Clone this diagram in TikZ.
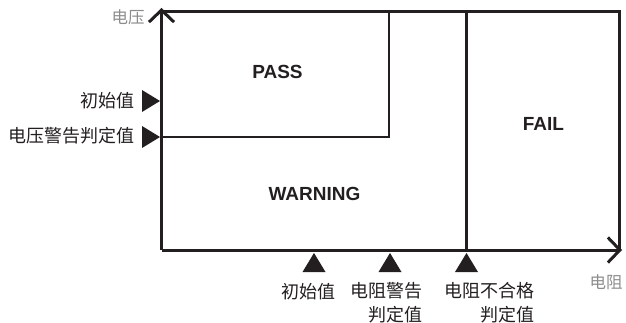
\documentclass[tikz,border=0pt]{standalone}
\usepackage{fontspec}
\setmainfont{Liberation Sans}
\newfontfamily\cjk{Noto Sans CJK SC}
\usetikzlibrary{arrows.meta,positioning}
\definecolor{ink}{HTML}{231F20}
\definecolor{muted}{HTML}{8C8C8C}

\begin{document}
\begin{tikzpicture}[
  x=1pt,y=-1pt,
  every node/.style={inner sep=0pt},
  axis/.style={line width=3pt,color=ink},
  bound/.style={line width=2.4pt,color=ink},
  barb/.style={-{Straight Barb[length=12pt,width=25pt]}},
  zone/.style={font=\fontsize{19}{19}\selectfont\bfseries,text=ink},
  tag/.style={font=\cjk\fontsize{18}{24}\selectfont,text=ink,align=right},
  axlabel/.style={font=\cjk\fontsize{16.5}{16.5}\selectfont,text=muted}
]
\useasboundingbox (0,0) rectangle (626,323);
% axes and frame
\coordinate (O) at (161.5,250);
\coordinate (Vtip) at (161.5,8);
\coordinate (Rtip) at (622,250);
\coordinate (TL) at (161.5,12);
\coordinate (TR) at (619,12);
\coordinate (BR) at (619,250);
\draw[axis,barb] (O) -- (Vtip);
\draw[axis,barb] (O) -- (Rtip);
\draw[axis] (TL) -- (TR) -- (BR);
% zones
\coordinate (pL) at (161.5,137);
\coordinate (pC) at (389,137);
\coordinate (pT) at (389,12);
\coordinate (fT) at (466.5,12);
\coordinate (fB) at (466.5,250);
\draw[bound] (pL) -- (pC) -- (pT);
\draw[bound] (fT) -- (fB);
\node[zone] (pass) at (277.5,72) {PASS};
\node[zone] (warn) at (314.5,194) {WARNING};
\node[zone] (fail) at (543.5,124) {FAIL};
% markers on voltage axis
\coordinate (vInit) at (160,101);
\coordinate (vWarn) at (160,137);
\fill[ink] (vInit) -- ++(-18,-11) -- ++(0,22) -- cycle;
\fill[ink] (vWarn) -- ++(-18,-11) -- ++(0,22) -- cycle;
\node[tag,anchor=east] (vInitL) at (135,101) {初始值};
\node[tag,anchor=east] (vWarnL) at (135,136) {电压警告判定值};
% markers on resistance axis
\coordinate (rInit) at (314,253);
\coordinate (rWarn) at (390,253);
\coordinate (rFail) at (466.5,253);
\foreach \m in {rInit,rWarn,rFail}
  \fill[ink] (\m) -- ++(-11.5,19) -- ++(23,0) -- cycle;
\node[tag] (rInitL) at (308,292) {初始值};
\node[tag,anchor=east] (rWarnL) at (423,302.5) {电阻警告\\判定值};
\node[tag,anchor=east] (rFailL) at (535,302.5) {电阻不合格\\判定值};
% axis names
\node[axlabel] (vName) at (128,17) {电压};
\node[axlabel] (rName) at (606,282) {电阻};
\end{tikzpicture}
\end{document}
